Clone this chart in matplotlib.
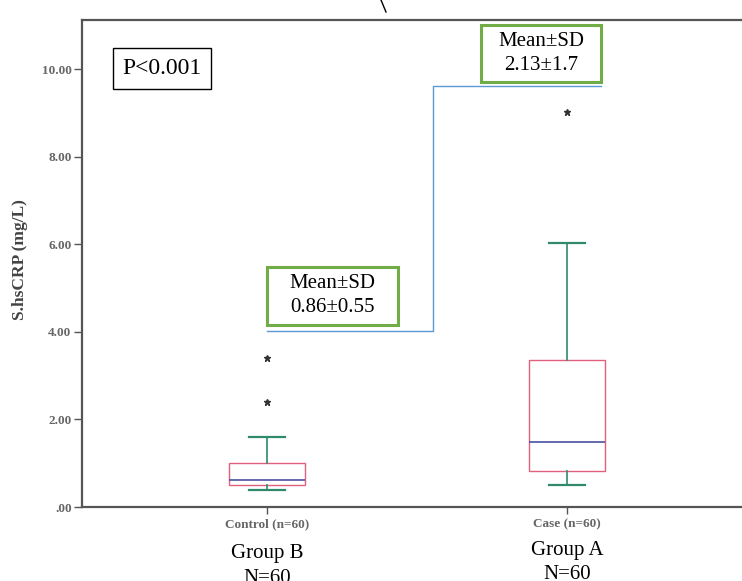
import numpy as np
import matplotlib
matplotlib.use('Agg')
import matplotlib.pyplot as plt
from matplotlib.patches import Rectangle
from matplotlib.lines import Line2D

# data (mg/L)
groups = ['Control (n=60)', 'Case (n=60)']
group_names = ['Group B\nN=60', 'Group A\nN=60']
q1 = [0.50, 0.82]
medians = [0.62, 1.49]
q3 = [1.00, 3.36]
whis_lo = [0.39, 0.50]
whis_hi = [1.60, 6.03]
outliers = [[2.40, 3.40], [9.03]]
mean_sd = ['Mean±SD\n0.86±0.55', 'Mean±SD\n2.13±1.7']
p_text = 'P<0.001'
yticks = [0, 2, 4, 6, 8, 10]

serif = 'Liberation Serif'
box_col = '#e0607e'
med_col = '#4b4fa0'
whisk_col = '#2f8a6a'
spine_col = '#555555'
tick_col = '#666666'

fig = plt.figure(figsize=(7.42, 5.81), dpi=100)
ax = fig.add_axes([82 / 742, 74 / 581, 669 / 742, 487 / 581])

stats = []
for i in range(len(groups)):
    stats.append(dict(med=medians[i], q1=q1[i], q3=q3[i],
                      whislo=whis_lo[i], whishi=whis_hi[i],
                      fliers=outliers[i], label=groups[i]))

ax.bxp(stats, positions=[0, 1], widths=0.253, capwidths=0.12,
       patch_artist=True, showfliers=True,
       boxprops=dict(facecolor='white', edgecolor=box_col, linewidth=1.0),
       medianprops=dict(color=med_col, linewidth=1.2),
       whiskerprops=dict(color=whisk_col, linewidth=1.2),
       capprops=dict(color=whisk_col, linewidth=1.6),
       flierprops=dict(marker='*', markersize=5, markerfacecolor='#333333',
                       markeredgecolor='#333333'))

ax.set_xlim(-0.617, 1.613)
ax.set_ylim(0, 11.13)

ax.set_yticks(yticks)
ax.set_yticklabels(['.00' if v == 0 else '%.2f' % v for v in yticks],
                   fontsize=9.5, fontweight='bold', color=tick_col, family=serif)
ax.set_xticks([0, 1])
ax.set_xticklabels(groups, fontsize=9.5, fontweight='bold', color=tick_col, family=serif)
ax.tick_params(axis='y', direction='out', length=6, width=1, color=spine_col, pad=1.5)
ax.tick_params(axis='x', direction='out', length=5, width=1, color=spine_col, pad=3)
ax.set_ylabel('S.hsCRP (mg/L)', fontsize=12.5, fontweight='bold', family=serif,
              color='#444444')
ax.yaxis.set_label_coords((28 - 82) / 669, (507 - 260) / 487)

for s in ['left', 'bottom', 'top']:
    ax.spines[s].set_color(spine_col)
    ax.spines[s].set_linewidth(1.6)
ax.spines['right'].set_visible(False)

# group labels under the axis (second line runs off the bottom, as in the source)
label_y = [-0.85, -0.77]
label_ls = [1.45, 1.4]
for i, name in enumerate(group_names):
    ax.text(i, label_y[i], name, ha='center', va='top',
            fontsize=15, family=serif, linespacing=label_ls[i])

# P value box
ax.add_patch(Rectangle((-0.513, 9.55), 0.326, 0.94, fill=False,
                       edgecolor='black', linewidth=1.0))
ax.text(-0.35, 10.02, p_text, ha='center', va='center', fontsize=17, family=serif)

# mean +- SD boxes
ax.add_patch(Rectangle((0.0, 4.16), 0.437, 1.33, fill=False,
                       edgecolor='#70ad47', linewidth=2.2))
ax.text(0.2185, 4.825, mean_sd[0], ha='center', va='center', fontsize=15,
        family=serif, linespacing=1.35)
ax.add_patch(Rectangle((0.713, 9.71), 0.40, 1.30, fill=False,
                       edgecolor='#70ad47', linewidth=2.2, clip_on=False))
ax.text(0.913, 10.36, mean_sd[1], ha='center', va='center', fontsize=15,
        family=serif, linespacing=1.35)

# connector line
ax.plot([0.0, 0.553, 0.553, 1.113], [4.02, 4.02, 9.62, 9.62],
        color='#5b9bd5', linewidth=1.0)

# stray stroke at top
fig.add_artist(Line2D([381 / 742, 386 / 742], [1.0, 1 - 12 / 581],
                      color='black', linewidth=1.0))

fig.savefig('out.png', dpi=100)
